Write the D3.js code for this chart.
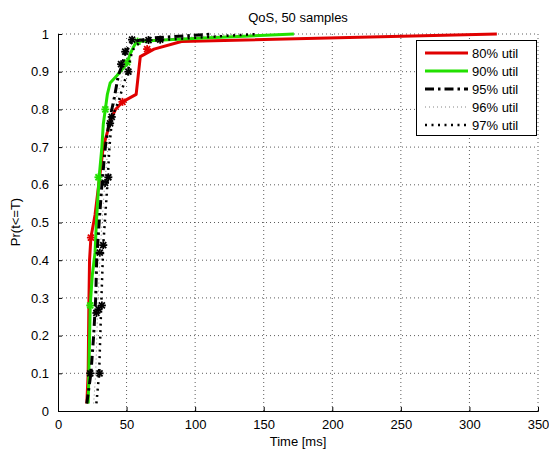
<!DOCTYPE html>
<html>
<head>
<meta charset="utf-8">
<script src="https://cdn.jsdelivr.net/npm/d3@7"></script>
<style>
  html, body { margin: 0; padding: 0; background: #fff; }
  svg { display: block; font-family: "Liberation Sans", Arial, sans-serif; }
</style>
</head>
<body>
<svg id="chart" width="549" height="451"></svg>
<script>
// Empirical CDF of response time, 50 samples per utilisation level
const seriesNames = ["80% util", "90% util", "95% util", "96% util", "97% util"];

const t80 = [21, 22, 22.5, 23, 24, 27, 29, 31, 33, 36, 38, 42, 47, 57, 60, 70, 90, 320];
const p80 = [0.02, 0.10, 0.28, 0.40, 0.46, 0.52, 0.58, 0.64, 0.70, 0.74, 0.77, 0.80, 0.82, 0.84, 0.94, 0.96, 0.98, 1.0];
const m80t = [24, 47, 65];
const m80p = [0.46, 0.82, 0.96];

const t90 = [22, 22.5, 23.5, 25, 27, 28, 29, 30, 32, 33, 34.5, 36, 38, 43, 50, 53, 57, 80, 110, 172];
const p90 = [0.02, 0.10, 0.28, 0.36, 0.42, 0.50, 0.56, 0.62, 0.70, 0.76, 0.80, 0.84, 0.87, 0.89, 0.92, 0.95, 0.98, 0.985, 0.99, 1.0];
const m90t = [23.5, 29.5, 34.5, 50.5, 58];
const m90p = [0.28, 0.62, 0.80, 0.925, 0.98];

const t95 = [21, 24, 26, 27.5, 28.2, 30, 32, 34.5, 37, 41, 44, 47, 49, 54, 70, 113];
const p95 = [0.02, 0.10, 0.20, 0.30, 0.40, 0.50, 0.60, 0.70, 0.76, 0.83, 0.89, 0.92, 0.95, 0.98, 0.99, 1.0];
const m95t = [23.5, 28, 30.5, 34.3, 38, 46, 49, 54];
const m95p = [0.10, 0.26, 0.42, 0.605, 0.763, 0.92, 0.953, 0.985];

const t96 = [26, 27.5, 29, 31, 34, 36.5, 40, 45, 49, 52, 55, 90, 130];
const p96 = [0.02, 0.10, 0.28, 0.44, 0.60, 0.70, 0.80, 0.86, 0.92, 0.96, 0.98, 0.99, 1.0];
const m96t = [29.5, 66];
const m96p = [0.27, 0.984];

const t97 = [28, 30, 31.5, 33, 36, 37.5, 39.5, 44, 49, 51, 53, 55, 60, 100, 145];
const p97 = [0.02, 0.10, 0.28, 0.44, 0.60, 0.70, 0.78, 0.82, 0.88, 0.90, 0.94, 0.96, 0.98, 0.99, 1.0];
const m97t = [30.3, 32, 33, 36.7, 39.2, 51.3, 74.5];
const m97p = [0.10, 0.28, 0.44, 0.62, 0.78, 0.90, 0.985];

const xTicks = [0, 50, 100, 150, 200, 250, 300, 350];
const yTicks = [0, 0.1, 0.2, 0.3, 0.4, 0.5, 0.6, 0.7, 0.8, 0.9, 1];

const styles = [
  { color: "#e00000", width: 3, dash: null, mcolor: "#e00000" },
  { color: "#22e000", width: 3, dash: null, mcolor: "#22e000" },
  { color: "#000", width: 3, dash: "9,4,2.5,4", mcolor: "#000" },
  { color: "#666", width: 0.8, dash: "1,3", mcolor: "#000" },
  { color: "#000", width: 2.5, dash: "2,4.5", mcolor: "#000" }
];

const series = [
  { t: t80, p: p80, mt: m80t, mp: m80p },
  { t: t90, p: p90, mt: m90t, mp: m90p },
  { t: t95, p: p95, mt: m95t, mp: m95p },
  { t: t96, p: p96, mt: m96t, mp: m96p },
  { t: t97, p: p97, mt: m97t, mp: m97p }
];

const svg = d3.select("#chart");
const plotLeft = 58, plotRight = 538, plotTop = 34, plotBottom = 411;

const x = d3.scaleLinear().domain([0, 350]).range([plotLeft, plotRight]);
const y = d3.scaleLinear().domain([0, 1]).range([plotBottom, plotTop]);

// grid
const grid = svg.append("g").attr("stroke", "#000").attr("stroke-width", 0.8)
  .attr("stroke-dasharray", "1,3").attr("opacity", 0.8);
xTicks.filter(d => d > 0).forEach(d => {
  grid.append("line").attr("x1", x(d)).attr("x2", x(d)).attr("y1", plotBottom).attr("y2", plotTop);
});
yTicks.filter(d => d > 0).forEach(d => {
  grid.append("line").attr("x1", plotLeft).attr("x2", plotRight).attr("y1", y(d)).attr("y2", y(d));
});

// axes (ticks pointing inward)
const xAxis = d3.axisBottom(x).tickValues(xTicks).tickSize(-4).tickPadding(9).tickFormat(d3.format("d"));
const yAxis = d3.axisLeft(y).tickValues(yTicks).tickSize(-4).tickPadding(9).tickFormat(d => d === 0 || d === 1 ? String(d) : d3.format(".1f")(d));

const gx = svg.append("g").attr("transform", `translate(0,${plotBottom})`).call(xAxis);
const gy = svg.append("g").attr("transform", `translate(${plotLeft},0)`).call(yAxis);
[gx, gy].forEach(g => {
  g.select(".domain").attr("stroke", "#000").attr("stroke-width", 1);
  g.selectAll(".tick line").attr("stroke", "#000");
  g.selectAll(".tick text").attr("font-size", 13).attr("fill", "#000")
    .attr("font-family", "'Liberation Sans', Arial, sans-serif");
});

// series lines
const line = d3.line().x(d => x(d[0])).y(d => y(d[1]));
const plot = svg.append("g");
function star(g, cx, cy, r, color) {
  const s = g.append("g").attr("stroke", color).attr("stroke-width", 1.8);
  s.append("line").attr("x1", cx - r).attr("x2", cx + r).attr("y1", cy).attr("y2", cy);
  s.append("line").attr("x1", cx).attr("x2", cx).attr("y1", cy - r).attr("y2", cy + r);
  const q = r * 0.75;
  s.append("line").attr("x1", cx - q).attr("x2", cx + q).attr("y1", cy - q).attr("y2", cy + q);
  s.append("line").attr("x1", cx - q).attr("x2", cx + q).attr("y1", cy + q).attr("y2", cy - q);
}
series.forEach((s, i) => {
  const st = styles[i];
  const pts = s.t.map((tv, k) => [tv, s.p[k]]);
  plot.append("path").attr("d", line(pts)).attr("fill", "none")
    .attr("stroke", st.color).attr("stroke-width", st.width)
    .attr("stroke-dasharray", st.dash).attr("stroke-linejoin", "round");
  s.mt.forEach((tv, k) => star(plot, x(tv), y(s.mp[k]), 4, st.mcolor));
});

// title and axis labels
svg.append("text").attr("x", 298).attr("y", 22).attr("text-anchor", "middle")
  .attr("font-size", 13).text("QoS, 50 samples");
svg.append("text").attr("x", 298).attr("y", 446).attr("text-anchor", "middle")
  .attr("font-size", 13).text("Time [ms]");
svg.append("text").attr("transform", "translate(20,222) rotate(-90)").attr("text-anchor", "middle")
  .attr("font-size", 13).text("Pr(t<=T)");

// legend
const lg = svg.append("g");
lg.append("rect").attr("x", 416.5).attr("y", 40.5).attr("width", 120).attr("height", 95)
  .attr("fill", "#fff").attr("stroke", "#000").attr("stroke-width", 1);
seriesNames.forEach((name, i) => {
  const st = styles[i];
  const ly = 53 + i * 18;
  lg.append("line").attr("x1", 425).attr("x2", 468).attr("y1", ly).attr("y2", ly)
    .attr("stroke", st.color).attr("stroke-width", st.width).attr("stroke-dasharray", st.dash);
  lg.append("text").attr("x", 472).attr("y", ly + 4.5).attr("font-size", 13).text(name);
});
</script>
</body>
</html>
